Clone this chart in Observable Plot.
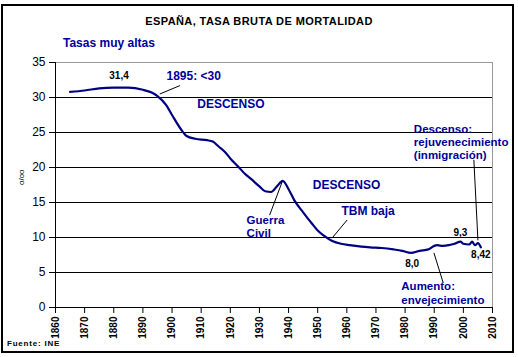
<!DOCTYPE html>
<html>
<head>
<meta charset="utf-8">
<script src="https://cdn.jsdelivr.net/npm/d3@7"></script>
<script src="https://cdn.jsdelivr.net/npm/@observablehq/plot@0.6"></script>
<style>
  body { margin: 0; background: #fff; font-family: "Liberation Sans", Arial, sans-serif; }
  #wrap { position: relative; width: 518px; height: 357px; overflow: hidden; background: #fff; }
  #wrap svg { position: absolute; left: 0; top: 0; }
  .frame { position: absolute; left: 1px; top: 4px; width: 513px; height: 349px; border: 2px solid #000; box-sizing: border-box; pointer-events: none; }
  .title { position: absolute; left: 0; width: 518px; top: 15px; text-align: center; font-size: 11px; font-weight: bold; letter-spacing: 0.4px; color: #000; }
  .sub { position: absolute; left: 63px; top: 36px; font-size: 12px; font-weight: bold; color: #000099; }
  .src { position: absolute; left: 7px; top: 339px; font-size: 8px; font-weight: bold; letter-spacing: 0.8px; color: #000; }
</style>
</head>
<body>
<div id="wrap">
  <div class="title">ESPAÑA, TASA BRUTA DE MORTALIDAD</div>
  <div class="sub">Tasas muy altas</div>
  <div class="src">Fuente: INE</div>
  <div class="frame"></div>
</div>
<script>
// Tasa bruta de mortalidad (o/oo)
const years = [1865,1870,1875,1880,1885,1890,1893,1895,1898,1900,1903,1905,1908,1912,1914,1916,1918,1920,1923,1925,1927,1930,1932,1934,1936,1938,1940,1942,1945,1948,1950,1952,1955,1958,1961,1965,1968,1972,1976,1979,1982,1985,1988,1990,1991,1993,1995,1997,1999,2000,2002,2003,2004,2005,2006];
const rates = [30.8,31.0,31.3,31.4,31.4,31.1,30.7,30.2,28.9,27.5,25.5,24.5,24.1,23.9,23.7,23.0,22.3,21.3,20.0,19.1,18.4,17.3,16.6,16.5,17.3,18.1,16.9,15.3,13.6,12.0,11.0,10.3,9.5,9.1,8.9,8.7,8.6,8.5,8.3,8.1,7.8,8.1,8.3,8.8,8.9,8.8,8.9,9.1,9.4,9.1,9.0,9.4,8.9,9.2,8.6];

const yTicks = [0,5,10,15,20,25,30,35];
const xTicks = [1860,1870,1880,1890,1900,1910,1920,1930,1940,1950,1960,1970,1980,1990,2000,2010];
const gridValues = [5,10,15,20,25,30];

// annotations (anchored in data space)
const blueText = ["1895: <30","DESCENSO","DESCENSO","Guerra\nCivil","TBM baja","Descenso:\nrejuvenecimiento\n(inmigración)","Aumento:\nenvejecimiento"];
const blueYear = [1898.1,1920.2,1959.9,1925.6,1967.3,1983.0,1978.7];
const blueVal  = [33.15,29.1,17.5,11.6,13.8,23.65,2.12];
const blueAnchor = ["start","middle","middle","start","middle","start","start"];
const blueSize = [12,12,12,11.5,12,11.5,11.5];

const numText = ["31,4","9,3","8,42","8,0"];
const numYear = [1881.8,1999,2006.0,1982.4];
const numVal  = [33.05,10.7,7.6,6.3];

const leaderX1 = [1895.8,1933.5,1960.1,2003.6,1989.9];
const leaderY1 = [30.5,13.2,12.5,21.1,7.8];
const leaderX2 = [1902.7,1937.8,1954.9,2005.0,1993.1];
const leaderY2 = [31.7,17.95,9.9,9.6,3.5];

const series = years.map((y,i)=>({year:y, value:rates[i]}));
const blue = blueText.map((t,i)=>({text:t, year:blueYear[i], value:blueVal[i], anchor:blueAnchor[i], size:blueSize[i]}));
const nums = numText.map((t,i)=>({text:t, year:numYear[i], value:numVal[i]}));
const leaders = leaderX1.map((x,i)=>({x1:x, y1:leaderY1[i], x2:leaderX2[i], y2:leaderY2[i]}));

const BLUE = "#000099";

const blueMarks = blue.map(d => Plot.text([d], {x:"year", y:"value", text:"text", textAnchor:d.anchor, lineHeight:1.15, fill:BLUE, fontSize:d.size, fontWeight:"bold"}));

const chart = Plot.plot({
  width: 518,
  height: 357,
  marginLeft: 55,
  marginRight: 26,
  marginTop: 62,
  marginBottom: 50,
  style: {fontFamily: "'Liberation Sans', Arial, sans-serif", background: "transparent", overflow: "visible"},
  x: {domain: [1860, 2010]},
  y: {domain: [0, 35]},
  marks: [
    Plot.ruleY(gridValues, {stroke: "#000", strokeWidth: 1}),
    Plot.ruleY([35], {stroke: "#999", strokeWidth: 1}),
    Plot.ruleX([2010], {stroke: "#999", strokeWidth: 1}),
    Plot.ruleX([1860], {stroke: "#000", strokeWidth: 1}),
    Plot.ruleY([0], {stroke: "#000", strokeWidth: 1}),
    Plot.axisY({ticks: yTicks, tickSize: 6, tickPadding: 4, fontSize: 12, label: null, color: "#000"}),
    Plot.axisX({ticks: xTicks, tickSize: 6, tickPadding: 3, tickRotate: -90, fontSize: 10, fontWeight: "bold", tickFormat: d => String(d), label: null, color: "#000"}),
    Plot.text(["o/oo"], {frameAnchor: "left", dx: -34, rotate: -90, fontSize: 8, fill: "#000"}),
    Plot.line(series, {x: "year", y: "value", stroke: "#000080", strokeWidth: 2.2, curve: "monotone-x"}),
    Plot.link(leaders, {x1: "x1", y1: "y1", x2: "x2", y2: "y2", stroke: "#000", strokeWidth: 1}),
    ...blueMarks,
    Plot.text(nums, {x: "year", y: "value", text: "text", fill: "#000", fontSize: 10, fontWeight: "bold", letterSpacing: "1px"})
  ]
});
document.getElementById("wrap").prepend(chart);
</script>
</body>
</html>
